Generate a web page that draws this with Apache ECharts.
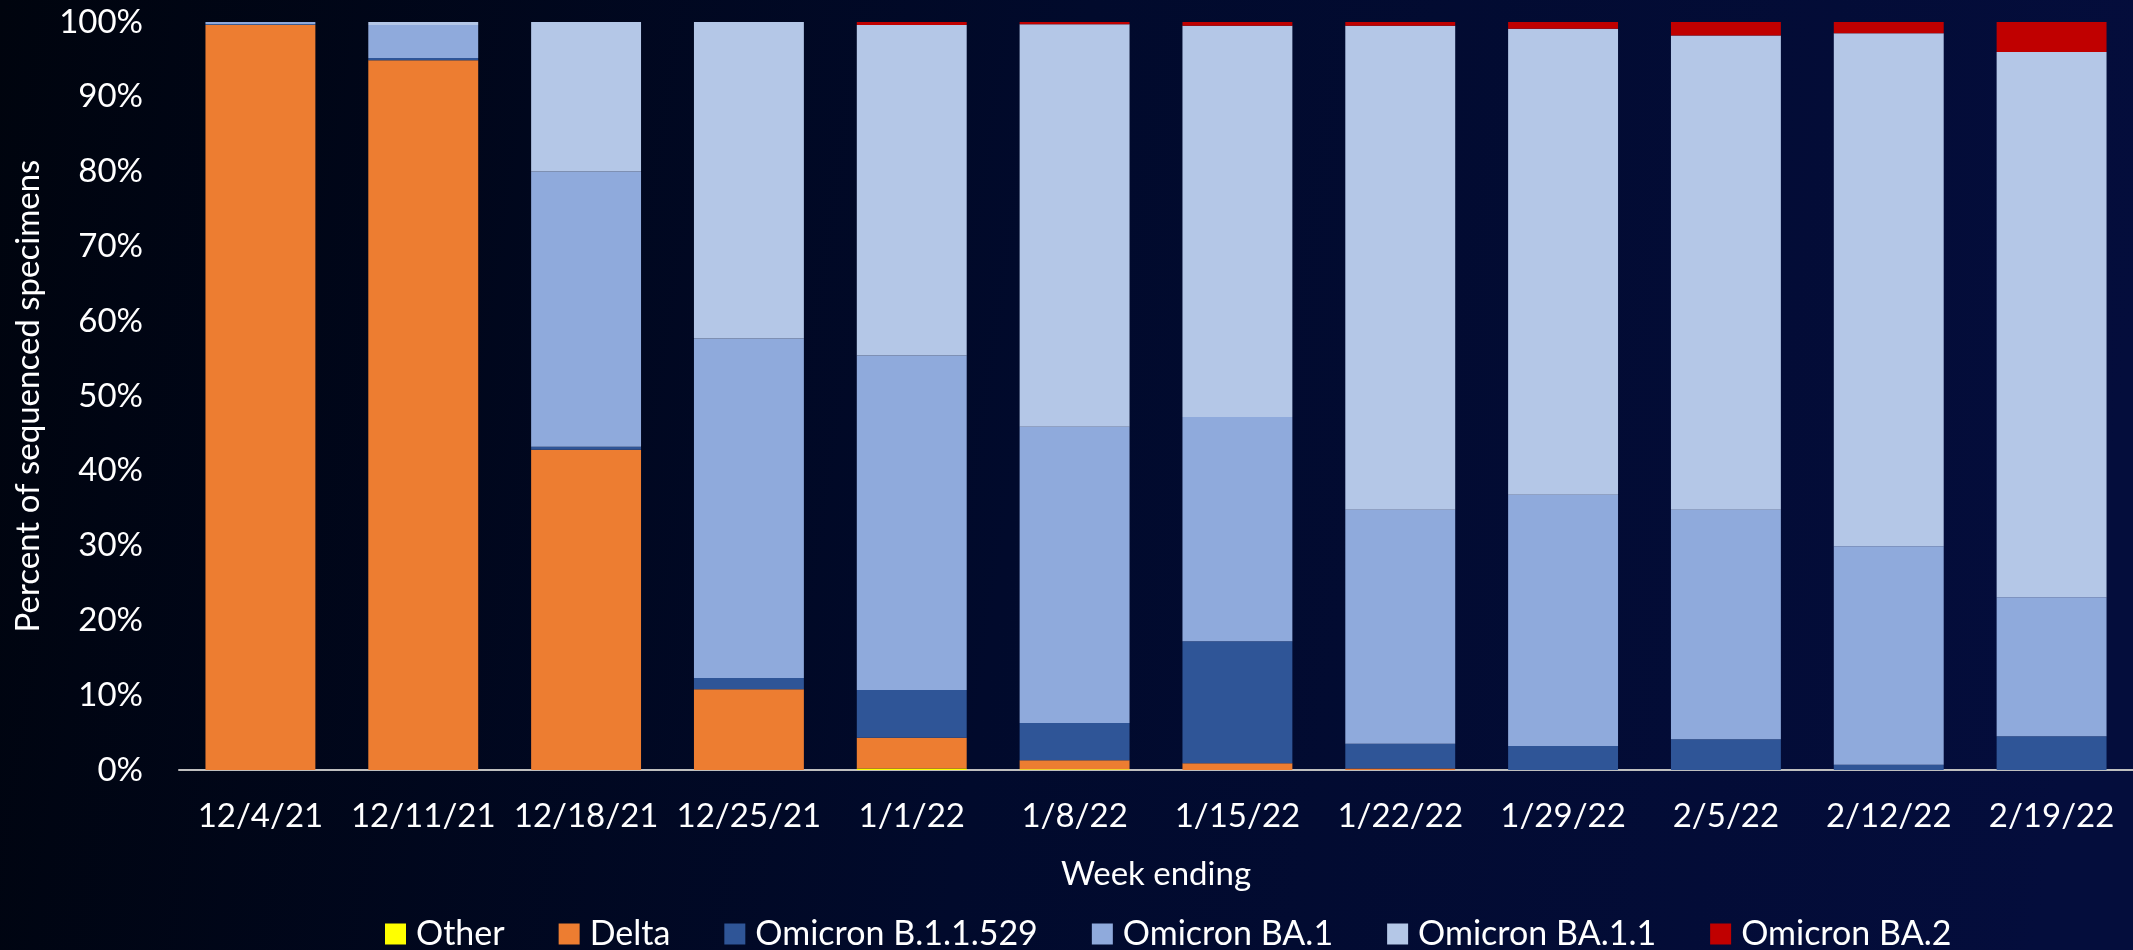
<!DOCTYPE html>
<html>
<head>
<meta charset="utf-8">
<script src="https://cdn.jsdelivr.net/npm/echarts@6/dist/echarts.min.js"></script>
<style>html,body{margin:0;padding:0;background:#000510;}#c{width:2133px;height:950px;}</style>
</head>
<body>
<div id="c"></div>
<script>
const categories = ['12/4/21','12/11/21','12/18/21','12/25/21','1/1/22','1/8/22','1/15/22','1/22/22','1/29/22','2/5/22','2/12/22','2/19/22'];
const other     = [0,    0,    0,    0,    0.2,  0.1,  0,    0,    0,    0,    0,    0];
const delta     = [99.6, 94.9, 42.8, 10.8, 4.1,  1.2,  0.9,  0.2,  0,    0,    0,    0];
const b11529    = [0.1,  0.3,  0.4,  1.5,  6.4,  5.0,  16.3, 3.3,  3.2,  4.1,  0.7,  4.5];
const ba1       = [0.3,  4.4,  36.8, 45.4, 44.7, 39.6, 30.0, 31.3, 33.6, 30.7, 29.2, 18.6];
const ba11      = [0,    0.4,  20.0, 42.3, 44.2, 53.8, 52.3, 64.7, 62.3, 63.4, 68.6, 72.9];
const ba2       = [0,    0,    0,    0,    0.4,  0.3,  0.5,  0.5,  0.9,  1.8,  1.5,  4.0];
const seriesNames = ['Other','Delta','Omicron B.1.1.529','Omicron BA.1','Omicron BA.1.1','Omicron BA.2'];
const yTicks = {min:0, max:100, interval:10};

const colors = ['#FFFF00','#ED7D31','#2F5597','#8FAADC','#B4C7E7','#C00000'];
const values = [other, delta, b11529, ba1, ba11, ba2];
const FONT = 'Lato';

const chart = echarts.init(document.getElementById('c'), null, {renderer:'canvas'});
chart.setOption({
  backgroundColor: {type:'linear', x:0, y:0, x2:1, y2:0.35, colorStops:[
    {offset:0, color:'#00040e'},{offset:0.5, color:'#010a2c'},{offset:1, color:'#040d3c'}]},
  animation:false,
  textStyle:{fontFamily:FONT},
  grid:{left:179, right:0, top:22, bottom:180, containLabel:false},
  legend:{
    data: seriesNames, left:380, top:912, itemWidth:21, itemHeight:21, itemGap:54,
    icon:'rect',
    textStyle:{color:'#ffffff', fontSize:34, fontFamily:FONT, padding:[0,0,0,5]}
  },
  xAxis:{
    type:'category', data:categories,
    axisLine:{lineStyle:{color:'#BFBFBF', width:2}},
    axisTick:{show:false},
    axisLabel:{color:'#ffffff', fontSize:33, fontFamily:FONT, margin:30, interval:0},
    name:'Week ending', nameLocation:'middle', nameGap:88,
    nameTextStyle:{color:'#ffffff', fontSize:33, fontFamily:FONT}
  },
  yAxis:{
    type:'value', min:yTicks.min, max:yTicks.max, interval:yTicks.interval,
    axisLine:{show:false}, axisTick:{show:false}, splitLine:{show:false},
    axisLabel:{color:'#ffffff', fontSize:33, fontFamily:FONT, margin:36, formatter:'{value}%'},
    name:'Percent of sequenced specimens', nameLocation:'middle', nameGap:134,
    nameTextStyle:{color:'#ffffff', fontSize:33, fontFamily:FONT}
  },
  series: seriesNames.map((n,i)=>({
    name:n, type:'bar', stack:'total', data:values[i],
    barCategoryGap:'32.5%',
    itemStyle:{color:colors[i]}
  }))
});
</script>
</body>
</html>
